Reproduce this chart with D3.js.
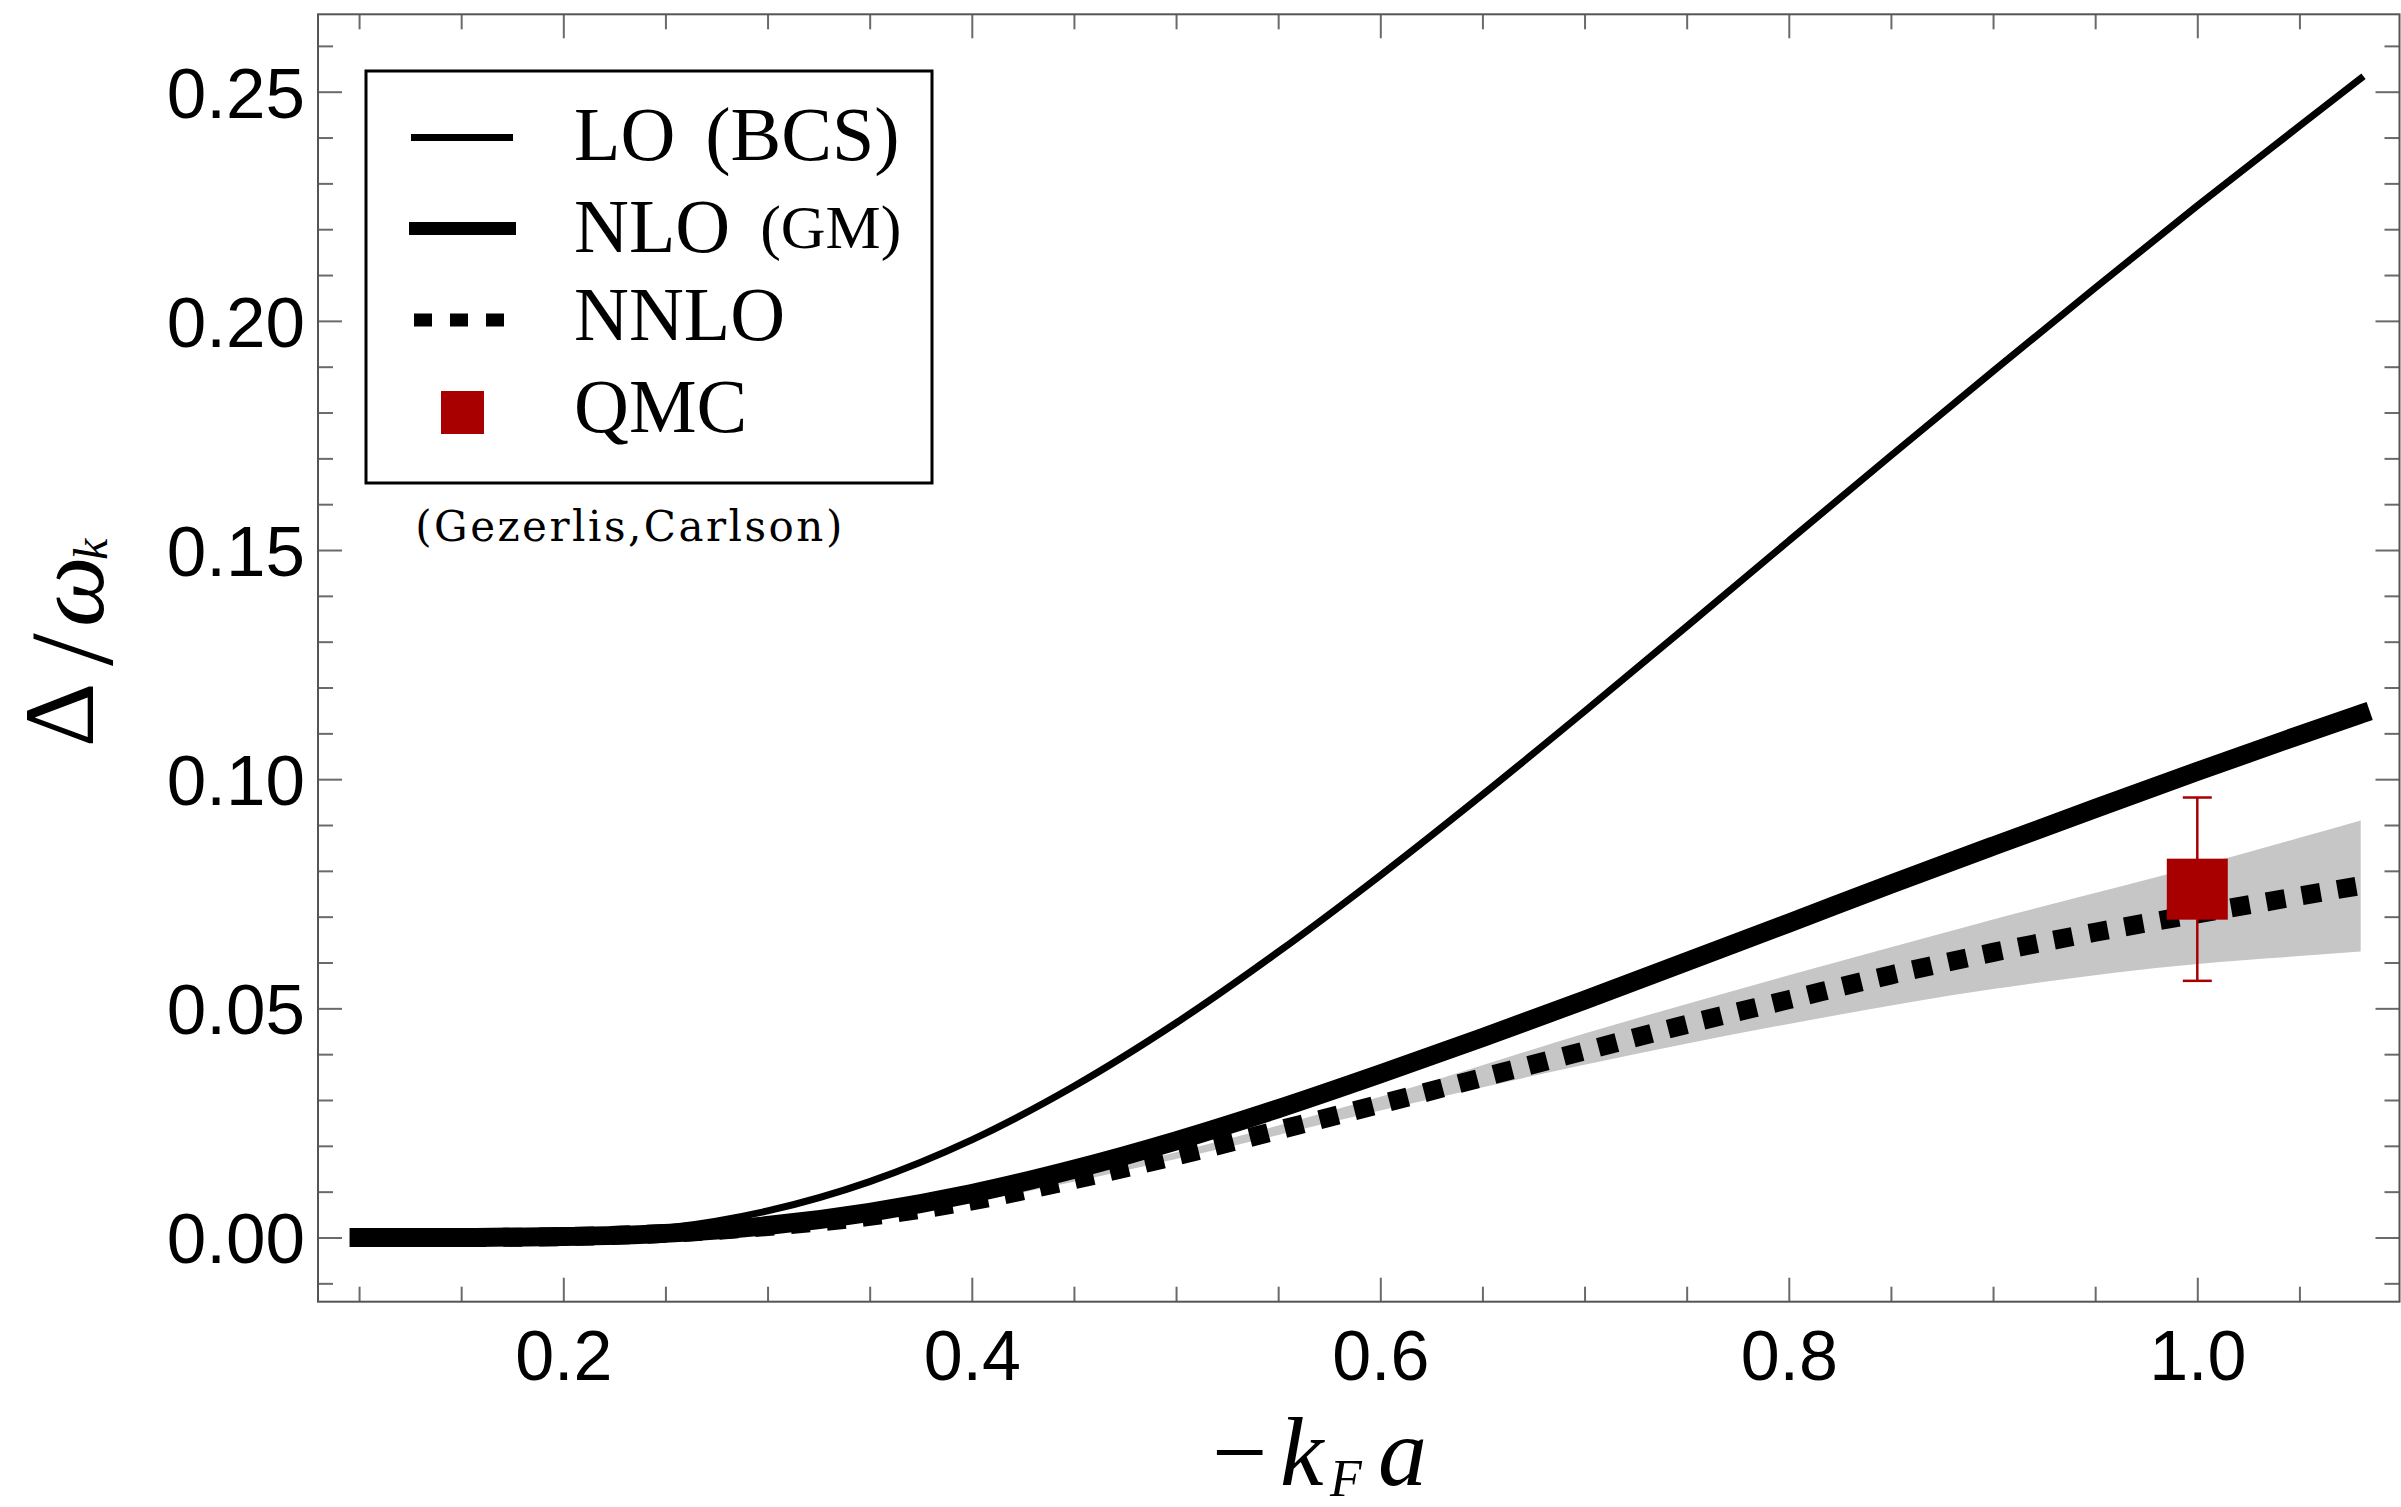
<!DOCTYPE html>
<html><head><meta charset="utf-8">
<script src="https://cdn.jsdelivr.net/npm/d3@7"></script>
<style>html,body{margin:0;padding:0;background:#fff;} svg{display:block;}</style>
</head><body>
<svg id="chart" width="2401" height="1507"></svg>
<script>
// ---------------- data ----------------
const kfa        = [0.10,0.15,0.20,0.25,0.30,0.35,0.40,0.45,0.50,0.55,0.60,0.65,0.70,0.75,0.80,0.85,0.90,0.95,1.00,1.05,1.08];
const loValues   = [0.0000,0.0000,0.0004,0.0020,0.0058,0.0122,0.0213,0.0330,0.0468,0.0623,0.0790,0.0966,0.1148,0.1333,0.1520,0.1706,0.1890,0.2072,0.2251,0.2425,0.2529];
const nloValues  = [0.0000,0.0000,0.0002,0.0009,0.0026,0.0055,0.0096,0.0149,0.0211,0.0281,0.0357,0.0436,0.0518,0.0602,0.0686,0.0771,0.0854,0.0936,0.1017,0.1096,0.1142];
const nnloValues = [0.0000,0.0000,0.0002,0.0009,0.0024,0.0046,0.0080,0.0126,0.0178,0.0234,0.0291,0.0349,0.0407,0.0465,0.0519,0.0573,0.0622,0.0666,0.0706,0.0745,0.0768];
const bandX      = [0.30,0.40,0.50,0.60,0.70,0.80,0.90,1.00,1.05,1.08];
const bandUpper  = [0.0024,0.0082,0.0186,0.0307,0.0445,0.0572,0.0694,0.0810,0.0872,0.0910];
const bandLower  = [0.0024,0.0078,0.0171,0.0277,0.0377,0.0466,0.0542,0.0597,0.0614,0.0624];
const qmcX   = [1.00];
const qmcY   = [0.076];
const qmcErr = [0.020];

const xMajorTicks = [0.2,0.4,0.6,0.8,1.0];
const xTickLabels = ["0.2","0.4","0.6","0.8","1.0"];
const yMajorTicks = [0.00,0.05,0.10,0.15,0.20,0.25];
const yTickLabels = ["0.00","0.05","0.10","0.15","0.20","0.25"];
const legendMain   = ["LO","NLO","NNLO","QMC"];
const legendSuffix = ["(BCS)","(GM)","",""];
const sourceNote   = "(Gezerlis,Carlson)";

// ---------------- layout ----------------
const svg = d3.select("#chart");
const L = 318, R = 2399.5, T = 14.3, B = 1301.7;
const x = d3.scaleLinear().domain([0.0799, 1.099]).range([L, R]);
const y = d3.scaleLinear().domain([-0.01401, 0.26689]).range([B, T]);

const xMinor = d3.range(0.10, 1.0751, 0.05).map(v => +v.toFixed(2)).filter(v => !xMajorTicks.some(m => Math.abs(m - v) < 1e-6));
const yMinor = d3.range(-0.01, 0.2651, 0.01).map(v => +v.toFixed(2)).filter(v => !yMajorTicks.some(m => Math.abs(m - v) < 1e-6));

const tickColor = "#6a6a6a";
const MAJ = 24, MIN = 15;

function styleAxis(g) {
  g.selectAll(".domain").remove();
  g.selectAll(".tick line").attr("stroke", tickColor).attr("stroke-width", 2);
}

// bottom
svg.append("g").attr("transform", `translate(0,${B})`)
  .call(d3.axisBottom(x).tickValues(xMajorTicks).tickSize(-MAJ).tickSizeOuter(0)
        .tickFormat((d,i) => xTickLabels[i]))
  .call(styleAxis)
  .call(g => g.selectAll(".tick text").attr("dy", null).attr("y", 78)
        .attr("font-family", "'Liberation Sans', Arial, sans-serif").attr("font-size", 70).attr("fill", "#000"));
svg.append("g").attr("transform", `translate(0,${B})`)
  .call(d3.axisBottom(x).tickValues(xMinor).tickSize(-MIN).tickSizeOuter(0).tickFormat(""))
  .call(styleAxis);
// top
svg.append("g").attr("transform", `translate(0,${T})`)
  .call(d3.axisTop(x).tickValues(xMajorTicks).tickSize(-MAJ).tickSizeOuter(0).tickFormat(""))
  .call(styleAxis);
svg.append("g").attr("transform", `translate(0,${T})`)
  .call(d3.axisTop(x).tickValues(xMinor).tickSize(-MIN).tickSizeOuter(0).tickFormat(""))
  .call(styleAxis);
// left
svg.append("g").attr("transform", `translate(${L},0)`)
  .call(d3.axisLeft(y).tickValues(yMajorTicks).tickSize(-MAJ).tickSizeOuter(0)
        .tickFormat((d,i) => yTickLabels[i]))
  .call(styleAxis)
  .call(g => g.selectAll(".tick text").attr("dy", null).attr("x", -13).attr("y", 25.5)
        .attr("font-family", "'Liberation Sans', Arial, sans-serif").attr("font-size", 71).attr("fill", "#000"));
svg.append("g").attr("transform", `translate(${L},0)`)
  .call(d3.axisLeft(y).tickValues(yMinor).tickSize(-MIN).tickSizeOuter(0).tickFormat(""))
  .call(styleAxis);
// right
svg.append("g").attr("transform", `translate(${R},0)`)
  .call(d3.axisRight(y).tickValues(yMajorTicks).tickSize(-MAJ).tickSizeOuter(0).tickFormat(""))
  .call(styleAxis);
svg.append("g").attr("transform", `translate(${R},0)`)
  .call(d3.axisRight(y).tickValues(yMinor).tickSize(-MIN).tickSizeOuter(0).tickFormat(""))
  .call(styleAxis);

// frame
svg.append("rect").attr("x", L).attr("y", T).attr("width", R - L).attr("height", B - T)
  .attr("fill", "none").attr("stroke", "#555").attr("stroke-width", 2);

// ---------------- marks ----------------
const plot = svg.append("g");
const bandData = bandX.map((v,i) => ({x: v, lo: bandLower[i], hi: bandUpper[i]}));
plot.append("path").datum(bandData)
  .attr("d", d3.area().x(d => x(d.x)).y0(d => y(d.lo)).y1(d => y(d.hi)).curve(d3.curveMonotoneX))
  .attr("fill", "#c6c6c6").attr("stroke", "none");

const line = d3.line().x(d => x(d[0])).y(d => y(d[1])).curve(d3.curveMonotoneX);
plot.append("path").datum(kfa.map((v,i) => [v, loValues[i]]))
  .attr("d", line).attr("fill", "none").attr("stroke", "#000").attr("stroke-width", 7).attr("stroke-linecap", "square");
plot.append("path").datum(kfa.map((v,i) => [v, nloValues[i]]))
  .attr("d", line).attr("fill", "none").attr("stroke", "#000").attr("stroke-width", 19).attr("stroke-linecap", "square");
plot.append("path").datum(kfa.map((v,i) => [v, nnloValues[i]]))
  .attr("d", line).attr("fill", "none").attr("stroke", "#000").attr("stroke-width", 19)
  .attr("stroke-dasharray", "19,17").attr("stroke-linecap", "butt");

// QMC point with error bar
const red = "#a80000";
const qmc = plot.selectAll("g.qmc").data(qmcX.map((v,i) => ({x: v, y: qmcY[i], e: qmcErr[i]}))).enter().append("g");
qmc.append("line").attr("x1", d => x(d.x)).attr("x2", d => x(d.x))
  .attr("y1", d => y(d.y + d.e)).attr("y2", d => y(d.y - d.e)).attr("stroke", red).attr("stroke-width", 2.5);
qmc.append("line").attr("x1", d => x(d.x) - 14.5).attr("x2", d => x(d.x) + 14.5)
  .attr("y1", d => y(d.y + d.e)).attr("y2", d => y(d.y + d.e)).attr("stroke", red).attr("stroke-width", 2.5);
qmc.append("line").attr("x1", d => x(d.x) - 14.5).attr("x2", d => x(d.x) + 14.5)
  .attr("y1", d => y(d.y - d.e)).attr("y2", d => y(d.y - d.e)).attr("stroke", red).attr("stroke-width", 2.5);
qmc.append("rect").attr("x", d => x(d.x) - 30.5).attr("y", d => y(d.y) - 30.5)
  .attr("width", 61).attr("height", 61).attr("fill", red);

// ---------------- legend ----------------
const serif = "'Liberation Serif', 'Times New Roman', serif";
const lg = svg.append("g");
lg.append("rect").attr("x", 366).attr("y", 71).attr("width", 566).attr("height", 412)
  .attr("fill", "#fff").attr("stroke", "#000").attr("stroke-width", 3);
const rowY = [137.5, 228.5, 320, 412.5];
const baseY = [160, 252, 340, 432];
lg.append("line").attr("x1", 411).attr("x2", 513).attr("y1", rowY[0]).attr("y2", rowY[0]).attr("stroke", "#000").attr("stroke-width", 7);
lg.append("line").attr("x1", 409).attr("x2", 516).attr("y1", rowY[1]).attr("y2", rowY[1]).attr("stroke", "#000").attr("stroke-width", 13);
lg.append("line").attr("x1", 414).attr("x2", 504).attr("y1", rowY[2]).attr("y2", rowY[2]).attr("stroke", "#000").attr("stroke-width", 13).attr("stroke-dasharray", "18,18");
lg.append("rect").attr("x", 441).attr("y", rowY[3] - 21.5).attr("width", 43).attr("height", 43).attr("fill", red);
legendMain.forEach((t, i) => {
  const tx = lg.append("text").attr("x", 574).attr("y", baseY[i])
    .attr("font-family", serif).attr("font-size", 76).attr("fill", "#000").text(t);
  if (legendSuffix[i]) {
    const small = i === 1;
    tx.append("tspan").attr("dx", 30)
      .attr("font-size", small ? 62 : 76).attr("dy", small ? -4 : 0).text(legendSuffix[i]);
  }
});
svg.append("text").attr("x", 630).attr("y", 541).attr("text-anchor", "middle")
  .attr("font-family", "'DejaVu Serif', serif").attr("font-size", 42).attr("letter-spacing", 2.5)
  .attr("fill", "#000").text(sourceNote);

// ---------------- axis titles ----------------
const xt = svg.append("g").attr("font-family", serif).attr("fill", "#000");
xt.append("text").attr("x", 1212).attr("y", 1485).attr("font-size", 98).text("\u2212");
xt.append("text").attr("x", 1280).attr("y", 1485).attr("font-size", 98).attr("font-style", "italic").text("k");
xt.append("text").attr("x", 1330).attr("y", 1496).attr("font-size", 52).attr("font-style", "italic").text("F");
xt.append("text").attr("x", 1378).attr("y", 1485).attr("font-size", 98).attr("font-style", "italic").text("a");

const yt = svg.append("g").attr("transform", "rotate(-90)").attr("font-family", serif).attr("fill", "#000");
yt.append("text").attr("x", -747).attr("y", 93).attr("font-size", 100).text("\u0394");
yt.append("text").attr("x", -666).attr("y", 112).attr("font-size", 118).text("/");
yt.append("text").attr("x", -627).attr("y", 103).attr("font-size", 100).attr("font-style", "italic").text("\u03C9");
yt.append("text").attr("x", -560).attr("y", 107).attr("font-size", 48).attr("font-style", "italic").text("k");
</script>
</body></html>
